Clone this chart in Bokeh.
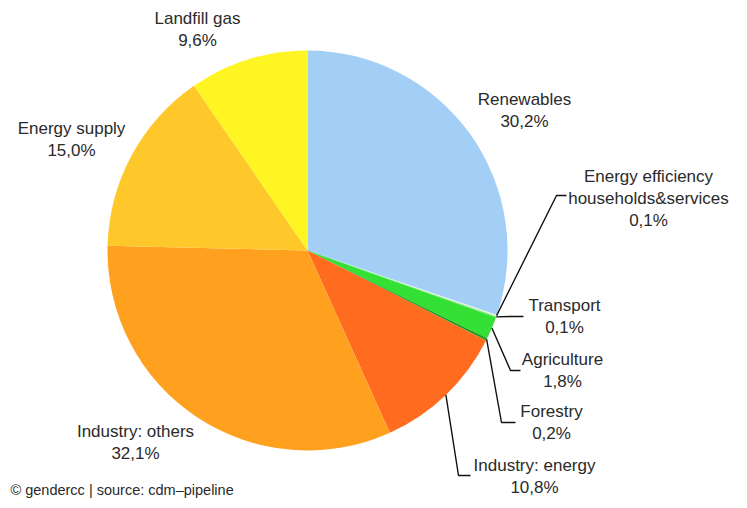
import math
from bokeh.plotting import figure
from bokeh.models import Range1d, ColumnDataSource
from bokeh.core.properties import value
from bokeh.embed import file_html
from bokeh.resources import INLINE

# ---- data ----
categories = ["Renewables", "Energy efficiency households&services", "Transport",
              "Agriculture", "Forestry", "Industry: energy", "Industry: others",
              "Energy supply", "Landfill gas"]
shares = [30.2, 0.1, 0.1, 1.8, 0.2, 10.8, 32.1, 15.0, 9.6]
pct_labels = ["30,2%", "0,1%", "0,1%", "1,8%", "0,2%", "10,8%", "32,1%", "15,0%", "9,6%"]
name_lines = [["Renewables"], ["Energy efficiency", "households&services"], ["Transport"],
              ["Agriculture"], ["Forestry"], ["Industry: energy"], ["Industry: others"],
              ["Energy supply"], ["Landfill gas"]]
credit = "\u00a9 gendercc | source: cdm\u2013pipeline"

# ---- style / layout ----
colors = ["#A3CEF5", "#E8F8E0", "#7FE87F", "#33E033", "#1FA01F",
          "#FF6B1F", "#FFA11F", "#FFC82A", "#FFF523"]
H = 508  # image height, used to flip image y into data y
cx, cy, R = 307, H - 250, 200
# label centers (image coords): (x, y of first line)
label_pos = [(524, 99), (648, 176), (564, 305), (562, 359), (551, 411),
             (534, 465), (135, 431), (71, 128), (197, 18)]
line_gap = 22
# leader lines: elbow and end points (image coords)
leaders = {1: [(556, 195), (566, 195)],
           2: [(510, 316), (523, 316)],
           3: [(510, 370), (520, 370)],
           4: [(501, 422), (515, 422)],
           5: [(458, 475), (470, 475)]}

p = figure(width=731, height=500, output_backend="svg", toolbar_location=None,
           x_range=Range1d(0, 731), y_range=Range1d(H - 500, H), min_border=0)
p.axis.visible = False
p.grid.visible = False
p.outline_line_color = None
p.background_fill_color = "white"
p.border_fill_color = "white"

total = sum(shares)
starts, ends, mids = [], [], []
acc = 0.0
for s in shares:
    a0 = math.pi / 2 - 2 * math.pi * acc / total
    acc += s
    a1 = math.pi / 2 - 2 * math.pi * acc / total
    starts.append(a1)
    ends.append(a0)
    mids.append((a0 + a1) / 2)

src = ColumnDataSource(dict(start=starts, end=ends, color=colors))
p.wedge(x=cx, y=cy, radius=R, start_angle="start", end_angle="end",
        fill_color="color", line_color=None, source=src)

# leader lines
for i, pts in leaders.items():
    sx = cx + R * math.cos(mids[i])
    sy = cy + R * math.sin(mids[i])
    xs = [sx] + [q[0] for q in pts]
    ys = [sy] + [H - q[1] for q in pts]
    p.line(xs, ys, line_color="#111111", line_width=1.4)

font = value("Liberation Sans")
for i, lines in enumerate(name_lines):
    x0, y0 = label_pos[i]
    all_lines = lines + [pct_labels[i]]
    for j, t in enumerate(all_lines):
        p.text(x=[x0], y=[H - (y0 + j * line_gap)], text=[t], text_font=font,
               text_font_size="17px", text_color="#2a2a2a",
               text_align="center", text_baseline="middle")

p.text(x=[10], y=[H - 489], text=[credit], text_font=font, text_font_size="14.5px",
       text_color="#2a2a2a", text_align="left", text_baseline="middle")

open("out.html", "w").write(file_html(p, INLINE))
